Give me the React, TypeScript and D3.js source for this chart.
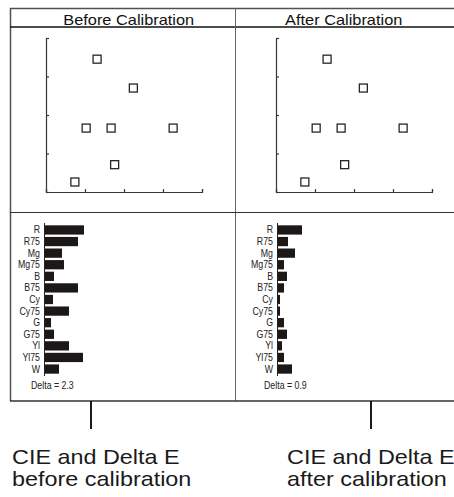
import React, { useEffect, useRef } from 'react';
import * as d3 from 'd3';

// patch names shown down the delta-E bar charts
const patches = ['R', 'R75', 'Mg', 'Mg75', 'B', 'B75', 'Cy', 'Cy75', 'G', 'G75', 'Yl', 'Yl75', 'W'];
const deltaBefore = [4.0, 3.4, 1.8, 2.0, 1.0, 3.4, 0.9, 2.5, 0.7, 1.0, 2.5, 3.9, 1.5];
const deltaAfter = [2.5, 1.1, 1.8, 0.7, 1.0, 0.7, 0.3, 0.3, 0.7, 1.0, 0.5, 0.7, 1.5];

// CIE points (same layout in both panels)
const cieXBefore = [1.31, 2.24, 1.03, 1.67, 3.26, 1.76, 0.74];
const cieYBefore = [3.45, 2.7, 1.66, 1.66, 1.66, 0.71, 0.26];
const cieXAfter = [1.31, 2.24, 1.03, 1.67, 3.26, 1.76, 0.74];
const cieYAfter = [3.45, 2.7, 1.66, 1.66, 1.66, 0.71, 0.26];

const axisTicks = [0, 1, 2, 3, 4];
const panelTitles = ['Before Calibration', 'After Calibration'];
const deltaTotals = ['2.3', '0.9'];
const captions = [
  ['CIE and Delta E', 'before calibration'],
  ['CIE and Delta E', 'after calibration'],
];

const W = 454;
const H = 497;
const font = '"Liberation Sans", Arial, sans-serif';

function Chart() {
  const ref = useRef<SVGSVGElement>(null);

  useEffect(() => {
    const svg = d3.select(ref.current);
    svg.selectAll('*').remove();

    const frame = '#574d4d';
    const line = (x1: number, y1: number, x2: number, y2: number, c: string, w: number) =>
      svg.append('line').attr('x1', x1).attr('y1', y1).attr('x2', x2).attr('y2', y2)
        .attr('stroke', c).attr('stroke-width', w);

    // frame
    line(10, 8.5, W, 8.5, frame, 1.5);
    line(10.5, 8, 10.5, 401, frame, 1.5);
    line(10, 27, W, 27, '#111', 1.5);
    line(235.5, 8, 235.5, 401, '#6b6060', 1);
    line(10, 212.5, W, 212.5, '#3a3030', 1);
    line(10, 401, W, 401, '#333', 1.5);

    const panels = [
      { axisX: 46, barX: 44, titleX: 128.7, deltaX: 31, tickX: 91, capX: 12,
        xs: cieXBefore, ys: cieYBefore, delta: deltaBefore },
      { axisX: 276, barX: 277, titleX: 343.7, deltaX: 264, tickX: 371, capX: 287,
        xs: cieXAfter, ys: cieYAfter, delta: deltaAfter },
    ];

    panels.forEach((p, i) => {
      svg.append('text')
        .attr('transform', `translate(${p.titleX},25) scale(1.17,1)`)
        .attr('text-anchor', 'middle')
        .attr('font-family', font).attr('font-size', 14).attr('fill', '#111')
        .text(panelTitles[i]);

      // CIE scatter
      const x = d3.scaleLinear().domain([0, 4]).range([p.axisX, p.axisX + 156]);
      const y = d3.scaleLinear().domain([0, 4]).range([192, 38]);

      const gx = svg.append('g').attr('transform', 'translate(0,192)')
        .call(d3.axisBottom(x).tickValues(axisTicks).tickSize(-3).tickFormat(() => ''));
      const gy = svg.append('g').attr('transform', `translate(${p.axisX},0)`)
        .call(d3.axisLeft(y).tickValues(axisTicks).tickSize(-3).tickFormat(() => ''));
      [gx, gy].forEach(g => {
        g.selectAll('path,line').attr('stroke', '#3a3434').attr('stroke-width', 1.2);
      });

      svg.append('g').selectAll('rect')
        .data(p.xs.map((v, k) => [v, p.ys[k]]))
        .enter().append('rect')
        .attr('x', d => x(d[0]) - 4)
        .attr('y', d => y(d[1]) - 4)
        .attr('width', 8).attr('height', 8)
        .attr('fill', '#fff').attr('stroke', '#2a2525').attr('stroke-width', 1.3);

      // delta E bars
      const band = d3.scaleBand().domain(patches).range([223, 376]).padding(0.2);
      const len = d3.scaleLinear().domain([0, 4]).range([p.barX, p.barX + 40]);

      svg.append('g').selectAll('rect')
        .data(p.delta)
        .enter().append('rect')
        .attr('x', len(0))
        .attr('y', (_, k) => band(patches[k]) as number)
        .attr('width', d => len(d) - len(0))
        .attr('height', band.bandwidth())
        .attr('fill', '#1c1818');

      line(p.barX + 0.5, 223, p.barX + 0.5, 376, '#222', 1);

      svg.append('g').selectAll('text')
        .data(patches)
        .enter().append('text')
        .attr('transform', d => `translate(${p.barX - 4},${(band(d) as number) + band.bandwidth() / 2}) scale(0.88,1)`)
        .attr('dy', '0.35em')
        .attr('text-anchor', 'end')
        .attr('font-family', font).attr('font-size', 10).attr('fill', '#222')
        .text(d => d);

      svg.append('text')
        .attr('transform', `translate(${p.deltaX},389) scale(0.88,1)`)
        .attr('font-family', font).attr('font-size', 10).attr('fill', '#222')
        .text(`Delta = ${deltaTotals[i]}`);

      // pointer and caption
      line(p.tickX, 401, p.tickX, 429, '#1a1a1a', 2);
      captions[i].forEach((c, k) => {
        svg.append('text')
          .attr('transform', `translate(${p.capX},${464 + k * 22}) scale(1.17,1)`)
          .attr('font-family', font).attr('font-size', 20).attr('fill', '#1a1a1a')
          .text(c);
      });
    });
  }, []);

  return <svg ref={ref} width={W} height={H} style={{ position: 'absolute', left: 0, top: 0, background: '#fff' }} />;
}

export default function App() {
  return <Chart />;
}
